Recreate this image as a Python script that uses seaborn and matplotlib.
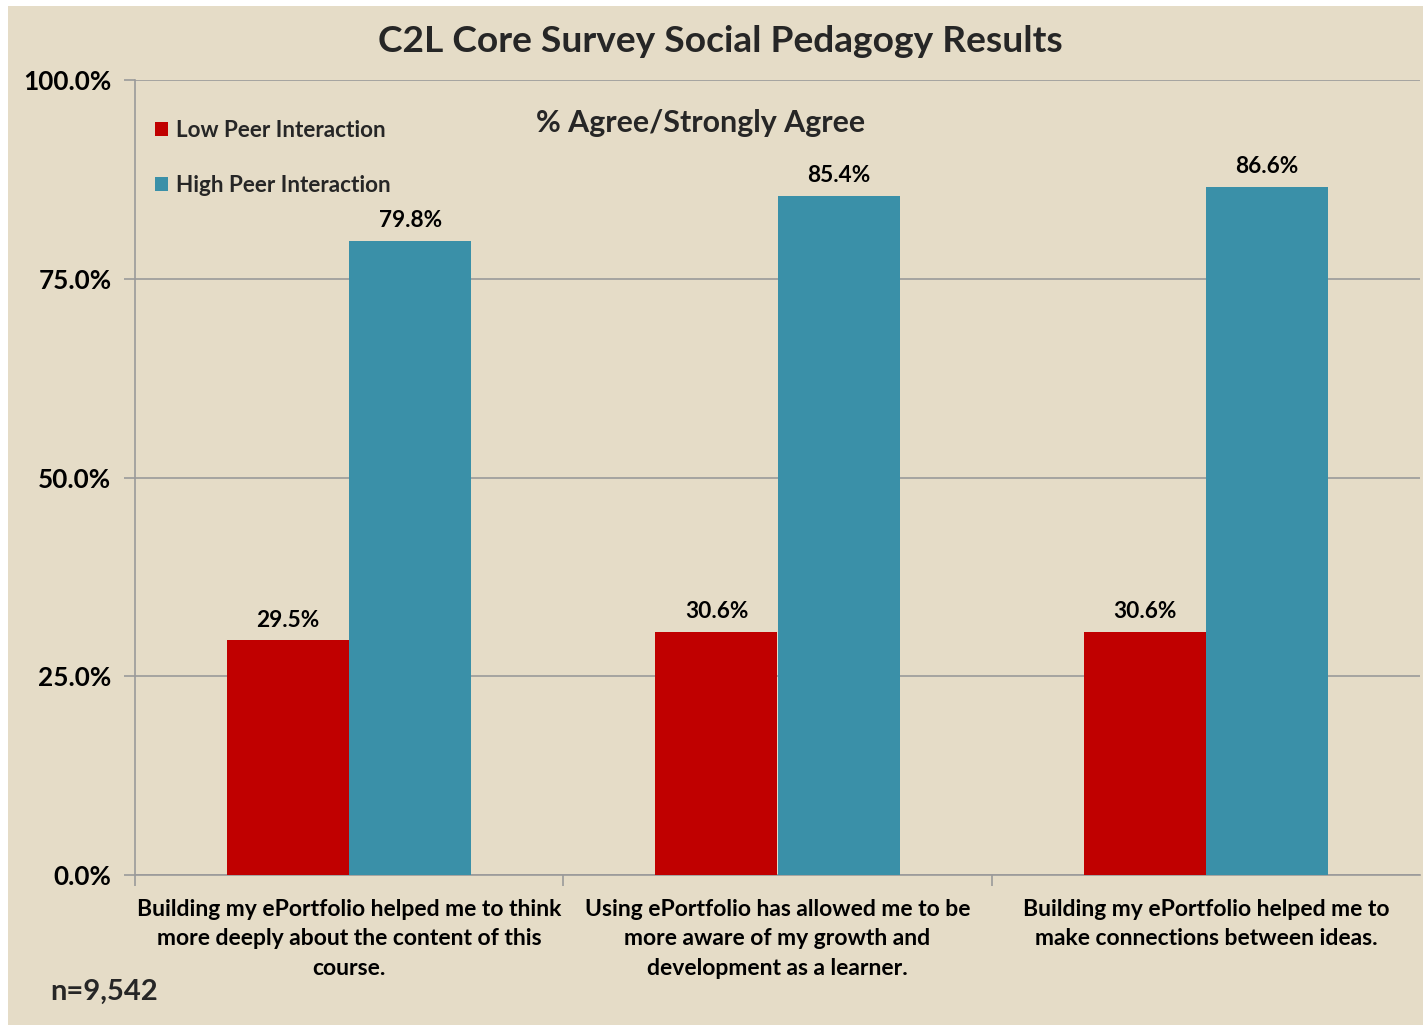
import matplotlib
matplotlib.use("Agg")
import matplotlib.pyplot as plt
import seaborn as sns
import pandas as pd
from matplotlib.patches import Rectangle
from matplotlib.ticker import FixedLocator

categories = [
    "Building my ePortfolio helped me to think\nmore deeply about the content of this\ncourse.",
    "Using ePortfolio has allowed me to be\nmore aware of my growth and\ndevelopment as a learner.",
    "Building my ePortfolio helped me to\nmake connections between ideas.",
]
series_names = ["Low Peer Interaction", "High Peer Interaction"]
low_values = [29.5, 30.6, 30.6]
high_values = [79.8, 85.4, 86.6]
y_ticks = [0, 25, 50, 75, 100]

BG = "#E5DCC7"
RED = "#C00000"
TEAL = "#3A90A8"
GRID = "#9a9a9a"

sns.set_theme(style="white")
plt.rcParams['font.family'] = ['Lato', 'DejaVu Sans']
plt.rcParams['font.weight'] = 'bold'

df = pd.DataFrame({
    "category": categories * 2,
    "series": [series_names[0]] * 3 + [series_names[1]] * 3,
    "value": low_values + high_values,
})

fig = plt.figure(figsize=(14.23, 10.25), dpi=100, facecolor="white")
fig.patches.append(Rectangle((8 / 1423, 0), 1 - 8 / 1423, 1 - 6 / 1025,
                             transform=fig.transFigure, facecolor=BG,
                             edgecolor="none", zorder=-10))
ax = fig.add_axes([135 / 1423, 1 - 875 / 1025, (1420 - 135) / 1423, (875 - 80) / 1025])
ax.set_facecolor(BG)

sns.barplot(data=df, x="category", y="value", hue="series",
            palette=[RED, TEAL], width=0.57, saturation=1,
            edgecolor="none", linewidth=0, ax=ax, zorder=3)

ax.set_ylim(0, 100)
ax.set_xlim(-0.5, 2.5)
ax.set_yticks(y_ticks)
ax.set_yticklabels([f"{v:.1f}%" for v in y_ticks], fontsize=18.8, fontweight="bold")
ax.yaxis.grid(True, color=GRID, linewidth=1.2, zorder=0)
ax.set_axisbelow(True)

for s in ["top", "right"]:
    ax.spines[s].set_visible(False)
for s in ["left", "bottom"]:
    ax.spines[s].set_color(GRID)
    ax.spines[s].set_linewidth(1.2)

ax.tick_params(axis="y", which="major", length=8, width=1.2, color=GRID,
               direction="out", left=True, pad=9, labelcolor="black")
ax.tick_params(axis="x", which="major", length=0, pad=17, labelcolor="black")
ax.xaxis.set_minor_locator(FixedLocator([-0.5, 0.5, 1.5]))
ax.tick_params(axis="x", which="minor", length=8, width=1.2, color=GRID,
               direction="out", bottom=True)
for lbl in ax.get_xticklabels():
    lbl.set_fontsize(16.5)
    lbl.set_fontweight("bold")
    lbl.set_linespacing(1.52)
    lbl.set_horizontalalignment("center")

ax.set_xlabel("")
ax.set_ylabel("")

for cont in ax.containers:
    ax.bar_label(cont, labels=[f"{v:.1f}%" for v in cont.datavalues],
                 padding=7, fontsize=16.3, fontweight="bold", color="black")

leg = ax.legend(loc="upper left", bbox_to_anchor=(0.0, 0.975), frameon=False,
                fontsize=16.2, handlelength=0.55, handleheight=0.55,
                labelspacing=1.5, handletextpad=0.35, borderaxespad=0.5)
for t in leg.get_texts():
    t.set_fontweight("bold")

ax.text(0.44, 0.946, "% Agree/Strongly Agree", transform=ax.transAxes,
        ha="center", va="center", fontsize=21.9, fontweight="bold")
fig.text(720 / 1423, 1 - 42 / 1025, "C2L Core Survey Social Pedagogy Results",
         ha="center", va="center", fontsize=26.7, fontweight="bold")
fig.text(50 / 1423, 1 - 992 / 1025, "n=9,542", ha="left", va="center",
         fontsize=21, fontweight="bold")

fig.savefig("out.png", dpi=100, facecolor="white")
